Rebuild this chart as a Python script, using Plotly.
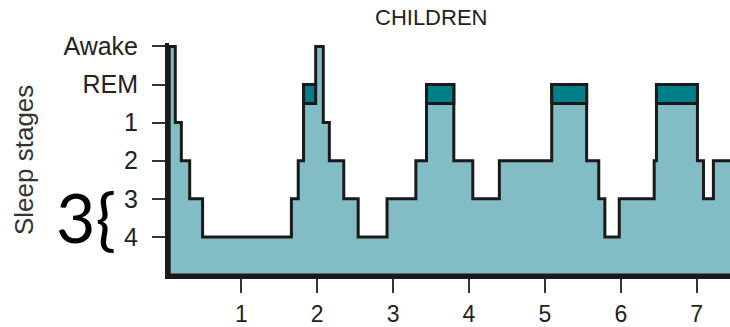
import plotly.graph_objects as go

# ---- data ----
stage_names = ["4", "3", "2", "1", "REM", "Awake"]          # y tick labels, bottom to top
stage_level = {"4": 1, "3": 2, "2": 3, "1": 4, "REM": 5, "Awake": 6}
hour_ticks = [1, 2, 3, 4, 5, 6, 7]

# segment boundaries (hours) and the stage held in each segment
boundaries = [0.05, 0.13, 0.21, 0.32, 0.49, 1.66, 1.75, 1.82, 1.98, 2.08,
              2.16, 2.35, 2.54, 2.92, 3.30, 3.44, 3.80, 4.05, 4.40, 5.09,
              5.55, 5.71, 5.79, 5.98, 6.44, 6.47, 7.01, 7.09, 7.22, 7.50]
stages = ["Awake", "1", "2", "3", "4", "3", "2", "REM", "Awake", "1",
          "2", "3", "4", "3", "2", "REM", "2", "3", "2", "REM",
          "2", "3", "4", "3", "2", "REM", "2", "3", "2"]

LIGHT = "#82BDC5"
DARK = "#007F88"
EDGE = "#1a1a1a"

# ---- build step outline ----
xs = [boundaries[0]]
ys = [0]
for i, st in enumerate(stages):
    h = stage_level[st]
    xs += [boundaries[i], boundaries[i + 1]]
    ys += [h, h]
xs.append(boundaries[-1])
ys.append(0)
xs.append(boundaries[0])
ys.append(0)

fig = go.Figure()
fig.add_trace(go.Scatter(x=xs, y=ys, mode="lines", fill="toself",
                         fillcolor=LIGHT, line=dict(color=EDGE, width=3),
                         hoverinfo="skip", showlegend=False))

# REM blocks (dark band in upper half of REM level)
for i, st in enumerate(stages):
    if st == "REM":
        s, e = boundaries[i], boundaries[i + 1]
        top = stage_level["REM"]
        low = top - 0.5
        fig.add_trace(go.Scatter(x=[s, e, e, s, s], y=[low, low, top, top, low],
                                 mode="lines", fill="toself", fillcolor=DARK,
                                 line=dict(color=EDGE, width=3),
                                 hoverinfo="skip", showlegend=False))

FONT = "Liberation Sans, Arial, sans-serif"

fig.update_layout(
    width=730, height=327,
    margin=dict(l=169, r=0, t=43, b=52),
    paper_bgcolor="white", plot_bgcolor="white",
    showlegend=False,
    xaxis=dict(range=[0.0474, 7.439], tickvals=hour_ticks,
               ticktext=[str(v) for v in hour_ticks],
               ticks="outside", ticklen=14, tickwidth=1.5, tickcolor="#333",
               showline=True, linewidth=4, linecolor=EDGE,
               showgrid=False, zeroline=False, automargin=False,
               tickfont=dict(family=FONT, size=23, color="#222"),
               ticklabelstandoff=1),
    yaxis=dict(range=[0, 6.09], tickvals=[1, 2, 3, 4, 5, 6],
               ticktext=stage_names,
               ticks="outside", ticklen=13, tickwidth=1.5, tickcolor="#333",
               showline=True, linewidth=4, linecolor=EDGE,
               showgrid=False, zeroline=False, automargin=False,
               tickfont=dict(family=FONT, size=25, color="#222"),
               ticklabelstandoff=9),
    annotations=[
        dict(text="CHILDREN", xref="paper", yref="paper",
             x=(431 - 169) / 561, y=1 + (43 - 18) / 232,
             xanchor="center", yanchor="middle", showarrow=False,
             font=dict(family=FONT, size=22, color="#222")),
        dict(text="Sleep stages", xref="paper", yref="paper",
             x=(24 - 169) / 561, y=(275 - 160) / 232, textangle=-90,
             xanchor="center", yanchor="middle", showarrow=False,
             font=dict(family=FONT, size=26, color="#333")),
        dict(text="3{", xref="paper", yref="paper",
             x=(86 - 169) / 561, y=(275 - 216) / 232,
             xanchor="center", yanchor="middle", showarrow=False,
             font=dict(family="Lato, Noto Sans, sans-serif", size=68, color="black")),
    ],
)

fig.write_html("out.html", config={"displayModeBar": False},
               post_script="document.body.style.margin='0';document.body.style.overflow='hidden';")
